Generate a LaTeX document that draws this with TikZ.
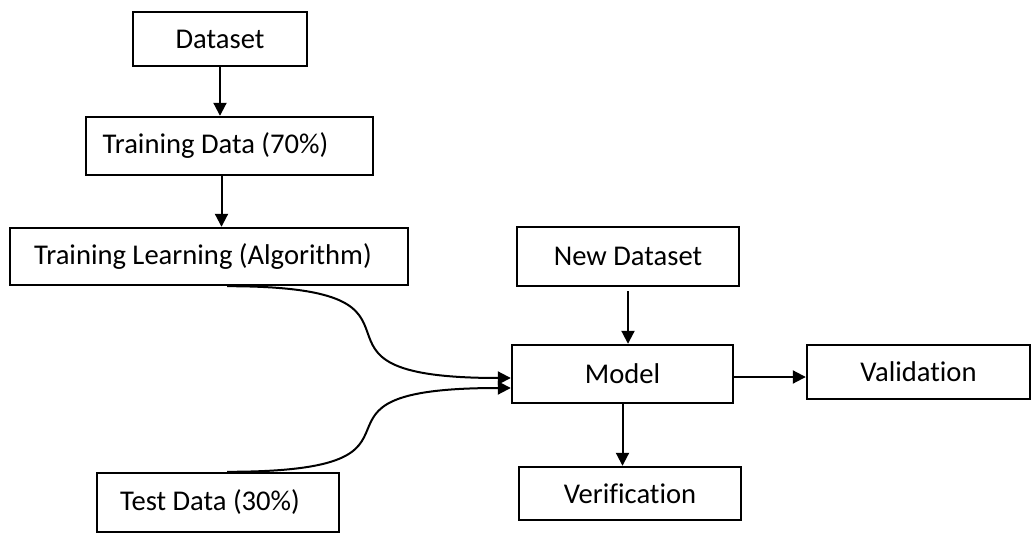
\documentclass[tikz,border=0pt]{standalone}
\usepackage{fontspec}
\setmainfont{Carlito}[Ligatures=CommonOff]
\usepackage{tikz}
\usetikzlibrary{arrows.meta}

\tikzset{
    stagebox/.style={draw, line width=1.2pt, inner sep=0pt, font=\fontsize{14.3}{17}\selectfont},
    flow/.style={-{Triangle[length=6.5pt,width=6.5pt]}, line width=1pt}
}

\begin{document}
\begin{tikzpicture}[x=0.5pt, y=-0.5pt]
        \useasboundingbox (0,0) rectangle (1033,534);

        % Left column Boxes
        \node[stagebox, minimum width=87pt, minimum height=27pt] (dataset) at (220,39) {Dataset};
        \node[stagebox, minimum width=143.5pt, minimum height=29pt] (trdata) at (229.5,146) {\hspace*{-14pt}Training Data (70\%)};
        \node[stagebox, minimum width=199pt, minimum height=28.5pt] (trlearn) at (209,256.5) {\hspace*{-6pt}Training Learning (Algorithm)};
        \node[stagebox, minimum width=121pt, minimum height=29.5pt] (test) at (218,502.5) {\hspace*{-8pt}Test Data (30\%)};

        % Right side Boxes
        \node[stagebox, minimum width=111pt, minimum height=29.5pt] (newdata) at (628,256.5) {New Dataset};
        \node[stagebox, minimum width=110.5pt, minimum height=29pt] (model) at (622.5,374) {Model};
        \node[stagebox, minimum width=111.5pt, minimum height=27pt] (valid) at (918.5,372) {Validation};
        \node[stagebox, minimum width=111pt, minimum height=26.5pt] (verif) at (630,493.5) {Verification};

        % Connections
        \draw[flow] (dataset.south) -- (dataset.south |- trdata.north);
        \draw[flow] ([xshift=-4pt]trdata.south) -- ([xshift=-4pt]trdata.south |- trlearn.north);
        \draw[flow] ([xshift=9pt]trlearn.south) to[out=0, in=180, looseness=2.1] ([yshift=-2pt]model.west);
        \draw[flow] ([xshift=4.5pt]test.north) to[out=0, in=180, looseness=2.1] ([yshift=-7pt]model.west);
        \draw[flow] ([yshift=-2pt]newdata.south) -- (newdata.south |- model.north);
        \draw[flow] ([yshift=-1.5pt]model.east) -- ([yshift=-1.5pt]model.east -| valid.west);
        \draw[flow] (model.south) -- (model.south |- verif.north);
    \end{tikzpicture}
\end{document}
